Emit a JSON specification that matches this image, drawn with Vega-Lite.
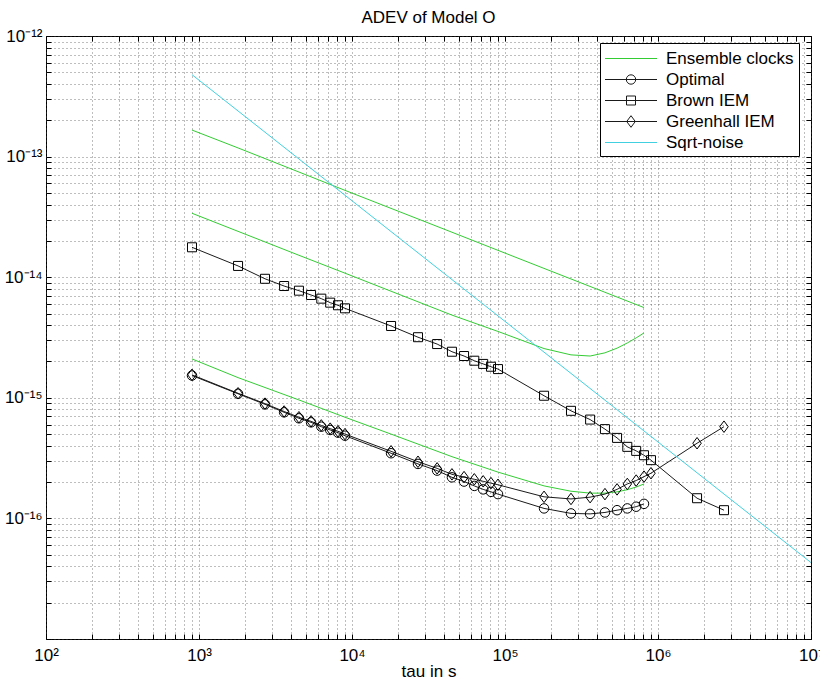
{
  "$schema": "https://vega.github.io/schema/vega-lite/v6.json",
  "width": 765,
  "height": 603,
  "autosize": "none",
  "padding": {"left": 46, "top": 36, "right": 9, "bottom": 53},
  "background": "white",
  "title": {"text": "ADEV of Model O", "fontSize": 17, "fontWeight": "normal", "font": "Liberation Sans", "color": "#000", "offset": 0, "frame": "group", "anchor": "middle"},
  "config": {"view": {"stroke": "#000", "strokeWidth": 1}, "font": "Liberation Sans"},
  "datasets": {
    "d": [
      {"s": "Ensemble clocks", "k": "e1", "t": 900, "v": 1.66e-13},
      {"s": "Ensemble clocks", "k": "e1", "t": 1800, "v": 1.18e-13},
      {"s": "Ensemble clocks", "k": "e1", "t": 4500, "v": 7.45e-14},
      {"s": "Ensemble clocks", "k": "e1", "t": 9000, "v": 5.25e-14},
      {"s": "Ensemble clocks", "k": "e1", "t": 45000, "v": 2.36e-14},
      {"s": "Ensemble clocks", "k": "e1", "t": 90000, "v": 1.67e-14},
      {"s": "Ensemble clocks", "k": "e1", "t": 450000, "v": 7.5e-15},
      {"s": "Ensemble clocks", "k": "e1", "t": 810000, "v": 5.6e-15},
      {"s": "Ensemble clocks", "k": "e2", "t": 900, "v": 3.39e-14},
      {"s": "Ensemble clocks", "k": "e2", "t": 1800, "v": 2.4e-14},
      {"s": "Ensemble clocks", "k": "e2", "t": 4500, "v": 1.52e-14},
      {"s": "Ensemble clocks", "k": "e2", "t": 9000, "v": 1.08e-14},
      {"s": "Ensemble clocks", "k": "e2", "t": 18000, "v": 7.65e-15},
      {"s": "Ensemble clocks", "k": "e2", "t": 45000, "v": 4.85e-15},
      {"s": "Ensemble clocks", "k": "e2", "t": 90000, "v": 3.55e-15},
      {"s": "Ensemble clocks", "k": "e2", "t": 180000, "v": 2.56e-15},
      {"s": "Ensemble clocks", "k": "e2", "t": 270000, "v": 2.27e-15},
      {"s": "Ensemble clocks", "k": "e2", "t": 360000, "v": 2.22e-15},
      {"s": "Ensemble clocks", "k": "e2", "t": 450000, "v": 2.36e-15},
      {"s": "Ensemble clocks", "k": "e2", "t": 540000, "v": 2.58e-15},
      {"s": "Ensemble clocks", "k": "e2", "t": 630000, "v": 2.85e-15},
      {"s": "Ensemble clocks", "k": "e2", "t": 720000, "v": 3.14e-15},
      {"s": "Ensemble clocks", "k": "e2", "t": 810000, "v": 3.45e-15},
      {"s": "Ensemble clocks", "k": "e3", "t": 900, "v": 2.1e-15},
      {"s": "Ensemble clocks", "k": "e3", "t": 1800, "v": 1.47e-15},
      {"s": "Ensemble clocks", "k": "e3", "t": 4500, "v": 9.6e-16},
      {"s": "Ensemble clocks", "k": "e3", "t": 9000, "v": 6.9e-16},
      {"s": "Ensemble clocks", "k": "e3", "t": 18000, "v": 5.0e-16},
      {"s": "Ensemble clocks", "k": "e3", "t": 45000, "v": 3.25e-16},
      {"s": "Ensemble clocks", "k": "e3", "t": 90000, "v": 2.42e-16},
      {"s": "Ensemble clocks", "k": "e3", "t": 180000, "v": 1.86e-16},
      {"s": "Ensemble clocks", "k": "e3", "t": 270000, "v": 1.68e-16},
      {"s": "Ensemble clocks", "k": "e3", "t": 360000, "v": 1.62e-16},
      {"s": "Ensemble clocks", "k": "e3", "t": 450000, "v": 1.62e-16},
      {"s": "Ensemble clocks", "k": "e3", "t": 540000, "v": 1.66e-16},
      {"s": "Ensemble clocks", "k": "e3", "t": 630000, "v": 1.73e-16},
      {"s": "Ensemble clocks", "k": "e3", "t": 720000, "v": 1.82e-16},
      {"s": "Ensemble clocks", "k": "e3", "t": 810000, "v": 1.93e-16},
      {"s": "Optimal", "k": "o", "t": 900, "v": 1.53e-15},
      {"s": "Optimal", "k": "o", "t": 1800, "v": 1.08e-15},
      {"s": "Optimal", "k": "o", "t": 2700, "v": 8.83e-16},
      {"s": "Optimal", "k": "o", "t": 3600, "v": 7.58e-16},
      {"s": "Optimal", "k": "o", "t": 4500, "v": 6.76e-16},
      {"s": "Optimal", "k": "o", "t": 5400, "v": 6.26e-16},
      {"s": "Optimal", "k": "o", "t": 6300, "v": 5.76e-16},
      {"s": "Optimal", "k": "o", "t": 7200, "v": 5.41e-16},
      {"s": "Optimal", "k": "o", "t": 8100, "v": 5.14e-16},
      {"s": "Optimal", "k": "o", "t": 9000, "v": 4.85e-16},
      {"s": "Optimal", "k": "o", "t": 18000, "v": 3.47e-16},
      {"s": "Optimal", "k": "o", "t": 27000, "v": 2.83e-16},
      {"s": "Optimal", "k": "o", "t": 36000, "v": 2.49e-16},
      {"s": "Optimal", "k": "o", "t": 45000, "v": 2.19e-16},
      {"s": "Optimal", "k": "o", "t": 54000, "v": 2.02e-16},
      {"s": "Optimal", "k": "o", "t": 63000, "v": 1.86e-16},
      {"s": "Optimal", "k": "o", "t": 72000, "v": 1.74e-16},
      {"s": "Optimal", "k": "o", "t": 81000, "v": 1.66e-16},
      {"s": "Optimal", "k": "o", "t": 90000, "v": 1.59e-16},
      {"s": "Optimal", "k": "o", "t": 180000, "v": 1.21e-16},
      {"s": "Optimal", "k": "o", "t": 270000, "v": 1.1e-16},
      {"s": "Optimal", "k": "o", "t": 360000, "v": 1.09e-16},
      {"s": "Optimal", "k": "o", "t": 450000, "v": 1.12e-16},
      {"s": "Optimal", "k": "o", "t": 540000, "v": 1.17e-16},
      {"s": "Optimal", "k": "o", "t": 630000, "v": 1.21e-16},
      {"s": "Optimal", "k": "o", "t": 720000, "v": 1.25e-16},
      {"s": "Optimal", "k": "o", "t": 810000, "v": 1.32e-16},
      {"s": "Brown IEM", "k": "b", "t": 900, "v": 1.77e-14},
      {"s": "Brown IEM", "k": "b", "t": 1800, "v": 1.24e-14},
      {"s": "Brown IEM", "k": "b", "t": 2700, "v": 9.7e-15},
      {"s": "Brown IEM", "k": "b", "t": 3600, "v": 8.45e-15},
      {"s": "Brown IEM", "k": "b", "t": 4500, "v": 7.73e-15},
      {"s": "Brown IEM", "k": "b", "t": 5400, "v": 7.12e-15},
      {"s": "Brown IEM", "k": "b", "t": 6300, "v": 6.64e-15},
      {"s": "Brown IEM", "k": "b", "t": 7200, "v": 6.15e-15},
      {"s": "Brown IEM", "k": "b", "t": 8100, "v": 5.85e-15},
      {"s": "Brown IEM", "k": "b", "t": 9000, "v": 5.52e-15},
      {"s": "Brown IEM", "k": "b", "t": 18000, "v": 3.94e-15},
      {"s": "Brown IEM", "k": "b", "t": 27000, "v": 3.18e-15},
      {"s": "Brown IEM", "k": "b", "t": 36000, "v": 2.79e-15},
      {"s": "Brown IEM", "k": "b", "t": 45000, "v": 2.41e-15},
      {"s": "Brown IEM", "k": "b", "t": 54000, "v": 2.22e-15},
      {"s": "Brown IEM", "k": "b", "t": 63000, "v": 2.03e-15},
      {"s": "Brown IEM", "k": "b", "t": 72000, "v": 1.91e-15},
      {"s": "Brown IEM", "k": "b", "t": 81000, "v": 1.81e-15},
      {"s": "Brown IEM", "k": "b", "t": 90000, "v": 1.73e-15},
      {"s": "Brown IEM", "k": "b", "t": 180000, "v": 1.04e-15},
      {"s": "Brown IEM", "k": "b", "t": 270000, "v": 7.8e-16},
      {"s": "Brown IEM", "k": "b", "t": 360000, "v": 6.6e-16},
      {"s": "Brown IEM", "k": "b", "t": 450000, "v": 5.5e-16},
      {"s": "Brown IEM", "k": "b", "t": 540000, "v": 4.65e-16},
      {"s": "Brown IEM", "k": "b", "t": 630000, "v": 3.92e-16},
      {"s": "Brown IEM", "k": "b", "t": 720000, "v": 3.63e-16},
      {"s": "Brown IEM", "k": "b", "t": 810000, "v": 3.34e-16},
      {"s": "Brown IEM", "k": "b", "t": 900000, "v": 3.04e-16},
      {"s": "Brown IEM", "k": "b", "t": 1800000, "v": 1.47e-16},
      {"s": "Brown IEM", "k": "b", "t": 2700000, "v": 1.17e-16},
      {"s": "Greenhall IEM", "k": "g", "t": 900, "v": 1.55e-15},
      {"s": "Greenhall IEM", "k": "g", "t": 1800, "v": 1.09e-15},
      {"s": "Greenhall IEM", "k": "g", "t": 2700, "v": 8.95e-16},
      {"s": "Greenhall IEM", "k": "g", "t": 3600, "v": 7.7e-16},
      {"s": "Greenhall IEM", "k": "g", "t": 4500, "v": 6.9e-16},
      {"s": "Greenhall IEM", "k": "g", "t": 5400, "v": 6.38e-16},
      {"s": "Greenhall IEM", "k": "g", "t": 6300, "v": 5.9e-16},
      {"s": "Greenhall IEM", "k": "g", "t": 7200, "v": 5.55e-16},
      {"s": "Greenhall IEM", "k": "g", "t": 8100, "v": 5.28e-16},
      {"s": "Greenhall IEM", "k": "g", "t": 9000, "v": 5.0e-16},
      {"s": "Greenhall IEM", "k": "g", "t": 18000, "v": 3.6e-16},
      {"s": "Greenhall IEM", "k": "g", "t": 27000, "v": 2.95e-16},
      {"s": "Greenhall IEM", "k": "g", "t": 36000, "v": 2.6e-16},
      {"s": "Greenhall IEM", "k": "g", "t": 45000, "v": 2.32e-16},
      {"s": "Greenhall IEM", "k": "g", "t": 54000, "v": 2.2e-16},
      {"s": "Greenhall IEM", "k": "g", "t": 63000, "v": 2.11e-16},
      {"s": "Greenhall IEM", "k": "g", "t": 72000, "v": 2.03e-16},
      {"s": "Greenhall IEM", "k": "g", "t": 81000, "v": 1.96e-16},
      {"s": "Greenhall IEM", "k": "g", "t": 90000, "v": 1.9e-16},
      {"s": "Greenhall IEM", "k": "g", "t": 180000, "v": 1.51e-16},
      {"s": "Greenhall IEM", "k": "g", "t": 270000, "v": 1.45e-16},
      {"s": "Greenhall IEM", "k": "g", "t": 360000, "v": 1.5e-16},
      {"s": "Greenhall IEM", "k": "g", "t": 450000, "v": 1.59e-16},
      {"s": "Greenhall IEM", "k": "g", "t": 540000, "v": 1.74e-16},
      {"s": "Greenhall IEM", "k": "g", "t": 630000, "v": 1.93e-16},
      {"s": "Greenhall IEM", "k": "g", "t": 720000, "v": 2.06e-16},
      {"s": "Greenhall IEM", "k": "g", "t": 810000, "v": 2.22e-16},
      {"s": "Greenhall IEM", "k": "g", "t": 900000, "v": 2.37e-16},
      {"s": "Greenhall IEM", "k": "g", "t": 1800000, "v": 4.2e-16},
      {"s": "Greenhall IEM", "k": "g", "t": 2700000, "v": 5.76e-16},
      {"s": "Sqrt-noise", "k": "q", "t": 900, "v": 4.78e-13},
      {"s": "Sqrt-noise", "k": "q", "t": 9000, "v": 4.78e-14},
      {"s": "Sqrt-noise", "k": "q", "t": 90000, "v": 4.78e-15},
      {"s": "Sqrt-noise", "k": "q", "t": 900000, "v": 4.78e-16},
      {"s": "Sqrt-noise", "k": "q", "t": 10000000, "v": 4.3e-17}
    ]
  },
  "layer": [
    {
      "data": {"name": "d"},
      "mark": {"type": "line", "strokeWidth": 1, "clip": true},
      "encoding": {
        "x": {
          "field": "t", "type": "quantitative",
          "scale": {"type": "log", "domain": [100, 10000000], "nice": false},
          "axis": {
            "orient": "bottom",
            "values": [100,200,300,400,500,600,700,800,900,1000,2000,3000,4000,5000,6000,7000,8000,9000,10000,20000,30000,40000,50000,60000,70000,80000,90000,100000,200000,300000,400000,500000,600000,700000,800000,900000,1000000,2000000,3000000,4000000,5000000,6000000,7000000,8000000,9000000,10000000],
            "labelExpr": "datum.value == 100 ? '10²' : datum.value == 1000 ? '10³' : datum.value == 10000 ? '10⁴' : datum.value == 100000 ? '10⁵' : datum.value == 1000000 ? '10⁶' : datum.value == 10000000 ? '10⁷' : ''",
            "labelOverlap": false, "labelFlush": false, "labelBound": false,
            "labelFontSize": 17, "labelFont": "Liberation Sans", "labelColor": "#000", "labelPadding": 13,
            "grid": true, "gridDash": [1, 3], "gridColor": "#444", "gridOpacity": 0.7, "gridWidth": 1,
            "ticks": true, "tickSize": -5, "tickColor": "#000", "tickWidth": 1,
            "domain": false,
            "title": "tau in s", "titleFontSize": 17, "titleFont": "Liberation Sans", "titleFontWeight": "normal", "titleColor": "#000", "titlePadding": 0
          }
        },
        "y": {
          "field": "v", "type": "quantitative",
          "scale": {"type": "log", "domain": [1e-17, 1e-12], "nice": false},
          "axis": {
            "orient": "left",
            "values": [1e-17,2e-17,3e-17,4e-17,5e-17,6e-17,7e-17,8e-17,9e-17,1e-16,2e-16,3e-16,4e-16,5e-16,6e-16,7e-16,8e-16,9e-16,1e-15,2e-15,3e-15,4e-15,5e-15,6e-15,7e-15,8e-15,9e-15,1e-14,2e-14,3e-14,4e-14,5e-14,6e-14,7e-14,8e-14,9e-14,1e-13,2e-13,3e-13,4e-13,5e-13,6e-13,7e-13,8e-13,9e-13,1e-12],
            "labelExpr": "datum.value == 1e-12 ? '10⁻¹²' : datum.value == 1e-13 ? '10⁻¹³' : datum.value == 1e-14 ? '10⁻¹⁴' : datum.value == 1e-15 ? '10⁻¹⁵' : datum.value == 1e-16 ? '10⁻¹⁶' : ''",
            "labelOverlap": false, "labelFlush": false, "labelBound": false,
            "labelFontSize": 17, "labelFont": "Liberation Sans", "labelColor": "#000", "labelPadding": 9,
            "grid": true, "gridDash": [1, 3], "gridColor": "#444", "gridOpacity": 0.7, "gridWidth": 1,
            "ticks": true, "tickSize": -5, "tickColor": "#000", "tickWidth": 1,
            "domain": false,
            "title": null
          }
        },
        "color": {
          "field": "s", "type": "nominal",
          "scale": {"domain": ["Ensemble clocks", "Optimal", "Brown IEM", "Greenhall IEM", "Sqrt-noise"], "range": ["#33cc33", "#1a1a1a", "#1a1a1a", "#1a1a1a", "#40d0e0"]},
          "legend": {
            "orient": "none", "legendX": 554, "legendY": 7, "title": null, "padding": 5,
            "strokeColor": "#000", "fillColor": "#fff", "cornerRadius": 0,
            "symbolSize": 400, "symbolStrokeWidth": 1, "symbolOffset": 0, "labelOffset": 40,
            "labelFontSize": 17, "labelFont": "Liberation Sans", "labelColor": "#000", "rowPadding": 2, "labelLimit": 300,
            "labelExpr": "datum.label + '\u00a0\u00a0\u00a0'",
            "encode": {
              "symbols": {
                "update": {
                  "shape": {"signal": "datum.value === 'Optimal' ? 'M-1.05,0H4.15M2.02,0A0.47,0.47,0,1,1,1.08,0A0.47,0.47,0,1,1,2.02,0' : datum.value === 'Brown IEM' ? 'M-1.05,0H4.15M1.1,-0.45H2V0.45H1.1Z' : datum.value === 'Greenhall IEM' ? 'M-1.05,0H4.15M1.55,-0.58L1.98,0L1.55,0.58L1.12,0Z' : 'M-1.05,0H4.15'"},
                  "fill": {"value": "transparent"}
                }
              }
            }
          }
        },
        "detail": {"field": "k"}
      }
    },
    {
      "data": {"name": "d"},
      "transform": [{"filter": "datum.s == 'Optimal' || datum.s == 'Brown IEM' || datum.s == 'Greenhall IEM'"}],
      "mark": {"type": "point", "filled": false, "color": "#000", "strokeWidth": 1, "opacity": 1, "size": 100},
      "encoding": {
        "x": {
          "field": "t", "type": "quantitative",
          "axis": {
            "orient": "top",
            "values": [100,200,300,400,500,600,700,800,900,1000,2000,3000,4000,5000,6000,7000,8000,9000,10000,20000,30000,40000,50000,60000,70000,80000,90000,100000,200000,300000,400000,500000,600000,700000,800000,900000,1000000,2000000,3000000,4000000,5000000,6000000,7000000,8000000,9000000,10000000],
            "labels": false, "grid": false, "domain": false, "ticks": true, "tickSize": -5, "tickColor": "#000", "title": null
          }
        },
        "y": {
          "field": "v", "type": "quantitative",
          "axis": {
            "orient": "right",
            "values": [1e-17,2e-17,3e-17,4e-17,5e-17,6e-17,7e-17,8e-17,9e-17,1e-16,2e-16,3e-16,4e-16,5e-16,6e-16,7e-16,8e-16,9e-16,1e-15,2e-15,3e-15,4e-15,5e-15,6e-15,7e-15,8e-15,9e-15,1e-14,2e-14,3e-14,4e-14,5e-14,6e-14,7e-14,8e-14,9e-14,1e-13,2e-13,3e-13,4e-13,5e-13,6e-13,7e-13,8e-13,9e-13,1e-12],
            "labels": false, "grid": false, "domain": false, "ticks": true, "tickSize": -5, "tickColor": "#000", "title": null
          }
        },
        "shape": {
          "field": "s", "type": "nominal",
          "scale": {"domain": ["Optimal", "Brown IEM", "Greenhall IEM"], "range": ["M0.95,0A0.95,0.95,0,1,1,-0.95,0A0.95,0.95,0,1,1,0.95,0", "M-0.9,-0.9H0.9V0.9H-0.9Z", "M0,-1.15L0.85,0L0,1.15L-0.85,0Z"]},
          "legend": null
        }
      }
    }
  ],
  "resolve": {"axis": {"x": "independent", "y": "independent"}}
}
